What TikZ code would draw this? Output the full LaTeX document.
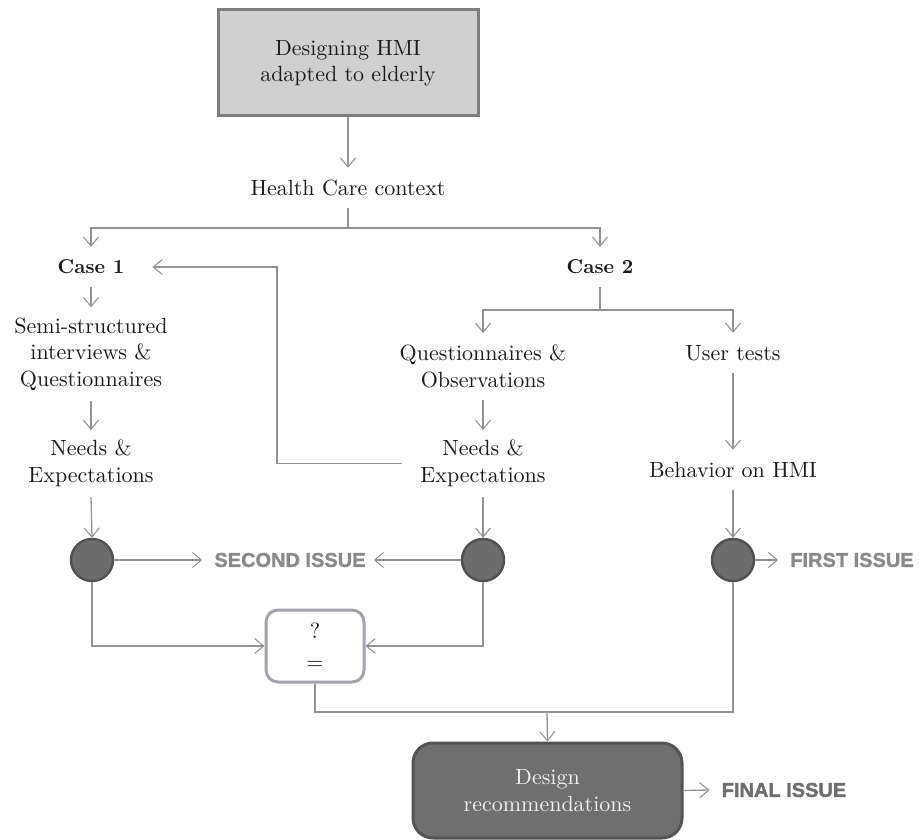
\documentclass[tikz,border=0pt]{standalone}
\usepackage{fontspec}
\setmainfont{lmroman10-regular.otf}[BoldFont=lmroman10-bold.otf]
\newfontfamily\issuefont{Liberation Sans}[BoldFeatures={FakeBold=1.6}]
\usetikzlibrary{arrows.meta}
\definecolor{linec}{HTML}{939393}
\definecolor{txtc}{HTML}{1A1A1A}
\definecolor{topfill}{HTML}{D0D0D0}
\definecolor{topdraw}{HTML}{7F7F7F}
\definecolor{dotfill}{HTML}{6D6D6D}
\definecolor{dotdraw}{HTML}{525252}
\definecolor{issuec}{HTML}{8A8A8A}
\definecolor{finalc}{HTML}{6E6E6E}
\definecolor{eqdraw}{HTML}{A3A3AE}
\definecolor{desfill}{HTML}{6F6F6F}
\definecolor{desdraw}{HTML}{545454}
\definecolor{destext}{HTML}{F2F2F2}
\tikzset{
  arr/.style={draw=linec, line width=1.3pt, -{Straight Barb[length=9pt,width=15pt,line width=1.1pt]}},
  ln/.style={draw=linec, line width=1.3pt},
  txt/.style={inner sep=0pt, align=center, text=txtc, font=\fontsize{22}{26.5}\selectfont},
  one/.style={minimum height=40pt},
  two/.style={minimum height=66.5pt},
  three/.style={minimum height=93pt},
  dot/.style={circle, minimum size=42pt, inner sep=0pt, fill=dotfill, draw=dotdraw, line width=2.5pt},
  issue/.style={inner sep=0pt, inner xsep=12pt, font=\issuefont\bfseries\fontsize{20}{24}\selectfont, text=issuec},
}
\begin{document}
\begin{tikzpicture}[x=1pt,y=-1pt]
\useasboundingbox (0,0) rectangle (919,840);

% nodes
\node[txt, draw=topdraw, fill=topfill, line width=3pt, minimum width=260pt, minimum height=106pt]
  (top) at (348,63) {Designing HMI\\adapted to elderly};
\node[txt, one] (hc) at (348,188) {Health Care context};
\node[txt, one, font=\fontsize{20}{26.5}\selectfont\bfseries] (case1) at (91,267) {Case 1};
\node[txt, one, font=\fontsize{20}{26.5}\selectfont\bfseries] (case2) at (600,267) {Case 2};
\node[txt, three] (semi) at (91,354) {Semi-structured\\interviews \&\\Questionnaires};
\node[txt, two] (needs1) at (91,463.5) {Needs \&\\Expectations};
\node[txt, two] (qo) at (483,366.5) {Questionnaires \&\\Observations};
\node[txt, two] (needs2) at (483,463.5) {Needs \&\\Expectations};
\node[txt, one] (ut) at (733,353) {User tests};
\node[txt, one] (beh) at (733,470) {Behavior on HMI};

\node[dot] (c1) at (92,560) {};
\node[dot] (c2) at (483,560) {};
\node[dot] (c3) at (733,560) {};

\node[issue] (second) at (290,560) {SECOND ISSUE};
\node[issue] (first) at (852,560) {FIRST ISSUE};

\node[txt, draw=eqdraw, fill=white, line width=3pt, rounded corners=12pt,
  minimum width=98pt, minimum height=72pt] (eq) at (315,646) {?\\[5pt]=};

\node[txt, text=destext, draw=desdraw, fill=desfill, line width=3pt, rounded corners=20pt,
  minimum width=269pt, minimum height=95pt] (design) at (547.5,790.5) {Design\\recommendations};
\node[issue, text=finalc] (final) at (784,790) {FINAL ISSUE};

% junctions
\coordinate (hj) at (348,228);
\coordinate (cj) at (600,310);
\coordinate (bk) at (277,267);
\coordinate (dj) at (547,712);

% connectors
\draw[arr] (top.south) -- (hc.north);
\draw[ln] (hc.south) -- (hj);
\draw[arr] (hj) -| (case1.north);
\draw[arr] (hj) -| (case2.north);

\draw[arr] (case1.south) -- (semi.north);
\draw[arr] (semi.south) -- (needs1.north);
\draw[arr] (needs1.south) -- (c1.north);

\draw[ln] (case2.south) -- (cj);
\draw[arr] (cj) -| (qo.north);
\draw[arr] (cj) -| (ut.north);
\draw[arr] (qo.south) -- (needs2.north);
\draw[arr] (needs2.south) -- (c2.north);
\draw[arr] (ut.south) -- (beh.north);
\draw[arr] (beh.south) -- (c3.north);

\draw[arr] ([xshift=-18pt]needs2.west) -- (needs2.west -| bk) -- (bk) -- ([xshift=28pt]case1.east);

\draw[arr] (c1.east) -- (second.west);
\draw[arr] (c2.west) -- ([xshift=-4pt]second.east);
\draw[arr] (c3.east) -- (first.west);

\draw[arr] (c1.south) |- (eq.west);
\draw[arr] (c2.south) |- (eq.east);
\draw[ln] (eq.south) -- (eq.south |- dj) -- (c3.south |- dj) -- (c3.south);
\draw[arr] (dj) -- (design.north);
\draw[arr] (design.east) -- (final.west);
\end{tikzpicture}
\end{document}
